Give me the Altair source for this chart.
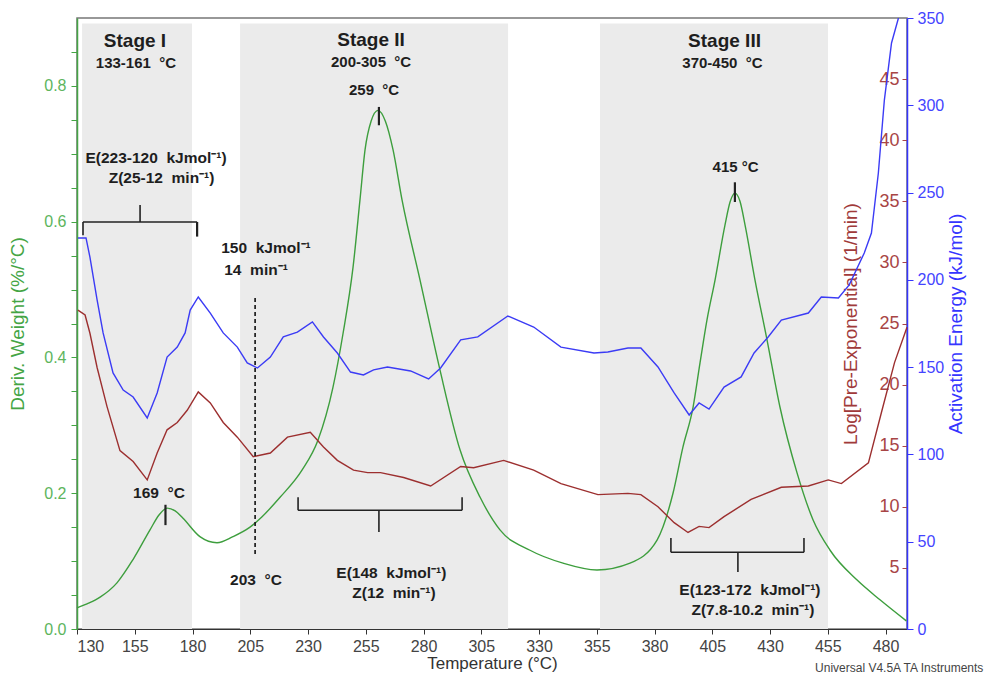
import altair as alt
import pandas as pd

# ---------------- data ----------------
# DTG curve (Deriv. Weight, %/°C)
temp_dtg = [130, 135, 140, 147.3, 154.2, 161.6, 165.5, 169, 172.5, 175.9, 183.2, 190.6, 197.5,
            204.9, 210, 217.9, 227.4, 234.3, 240.8, 245.2, 249.5, 252.5, 254.7, 257.3, 260.3,
            263.5, 266.8, 270.7, 278.5, 287.1, 295.8, 304.5, 313.1, 326.1, 340.4, 355.1, 369.4,
            381.1, 388.0, 392.3, 396.7, 399.7, 402.7, 406.2, 410.5, 412.8, 414.8, 417.0, 419.2,
            423.5, 428.7, 434.3, 441.7, 448.6, 456.0, 467.7, 477.6, 489.0]
deriv_weight = [0.031, 0.038, 0.047, 0.068, 0.102, 0.146, 0.168, 0.178, 0.174, 0.163, 0.136, 0.127,
                0.136, 0.150, 0.165, 0.194, 0.234, 0.278, 0.356, 0.436, 0.533, 0.632, 0.706, 0.748,
                0.764, 0.748, 0.706, 0.632, 0.514, 0.382, 0.264, 0.194, 0.146, 0.116, 0.097, 0.087,
                0.097, 0.131, 0.200, 0.268, 0.327, 0.392, 0.455, 0.514, 0.595, 0.630, 0.642, 0.630,
                0.595, 0.514, 0.426, 0.327, 0.230, 0.161, 0.116, 0.072, 0.043, 0.012]

# Log[Pre-Exponential] (1/min)
temp_logz = [130.4, 133.5, 135.6, 138.7, 143.0, 148.6, 154.3, 160.4, 164.7, 169.0, 173.4, 177.7,
             182.5, 187.7, 193.3, 199.4, 206.3, 213.7, 221.1, 231.0, 236.7, 242.7, 249.7, 255.8,
             261.4, 271.4, 283.1, 296.1, 301.7, 314.7, 327.7, 339.5, 355.5, 368.5, 374.1, 381.5,
             388.5, 394.5, 399.3, 403.6, 410.1, 421.8, 434.9, 446.6, 455.2, 460.9, 472.6, 478.2,
             483.9, 489.3]
log_preexp = [26.1, 25.7, 24.2, 21.4, 18.2, 14.6, 13.7, 12.2, 14.4, 16.3, 16.9, 17.9, 19.4, 18.5,
              16.9, 15.7, 14.1, 14.4, 15.7, 16.1, 14.9, 13.8, 13.0, 12.8, 12.8, 12.4, 11.7, 13.3,
              13.2, 13.8, 13.0, 11.9, 11.0, 11.1, 11.0, 10.0, 8.7, 7.9, 8.4, 8.3, 9.2, 10.6, 11.6,
              11.7, 12.2, 11.9, 13.6, 17.7, 21.8, 24.7]

# Activation Energy (kJ/mol)
temp_ea = [130.4, 133.9, 135.6, 138.7, 141.3, 145.6, 150.0, 154.3, 160.4, 164.7, 169.0, 173.4,
           176.8, 179.0, 182.5, 187.7, 193.3, 199.4, 203.7, 208.1, 213.7, 219.3, 225.4, 231.9,
           236.7, 242.7, 248.4, 254.0, 258.4, 264.4, 274.4, 282.2, 287.4, 296.1, 303.5, 316.5,
           327.7, 339.5, 353.8, 359.8, 368.5, 374.1, 381.5, 388.5, 395.0, 399.3, 403.6, 410.1,
           417.5, 423.1, 429.2, 434.9, 446.6, 452.2, 459.6, 464.3, 470.8, 473.9, 476.9, 479.5,
           482.6, 485.6]
act_energy = [224, 224, 213, 188.5, 169.6, 146.7, 136.9, 132.9, 120.9, 135.2, 155.8, 161.5, 169.6,
              182.7, 190.2, 181.0, 169.6, 161.5, 152.4, 149.5, 155.8, 167.3, 170.1, 175.9, 167.3,
              158.1, 147.2, 145.5, 148.4, 150.1, 147.8, 143.2, 149.5, 165.6, 167.3, 179.3, 173.0,
              161.5, 158.1, 158.7, 161.0, 161.0, 150.1, 135.2, 122.6, 129.5, 126.0, 138.6, 144.4,
              158.1, 167.3, 177.0, 181.0, 190.2, 189.6, 197.1, 215.4, 226.8, 261.2, 303.0, 335.7,
              350]

# shaded stages
stage_from = [132.2, 200.6, 356.4]
stage_to = [179.8, 316.6, 455.1]
stage_top = [0.892, 0.892, 0.892]

# axis ticks
x_ticks = [130, 155, 180, 205, 230, 255, 280, 305, 330, 355, 380, 405, 430, 455, 480]
green_ticks = [round(0.05 * i, 2) for i in range(18)]
red_ticks = [5, 10, 15, 20, 25, 30, 35, 40, 45]
blue_ticks = [0, 50, 100, 150, 200, 250, 300, 350]

# annotation texts (position in temperature / deriv-weight units)
NB = "\u00a0"
ann_text = ["Stage I", "133-161 " + NB + "°C", "Stage II", "200-305 " + NB + "°C", "259 " + NB + "°C",
            "Stage III", "370-450 " + NB + "°C", "415 °C",
            "E(223-120 " + NB + "kJmol⁻¹)", "Z(25-12 " + NB + "min⁻¹)",
            "150 " + NB + "kJmol⁻¹", "14 " + NB + "min⁻¹", "203 " + NB + "°C", "169 " + NB + "°C",
            "E(148 " + NB + "kJmol⁻¹)", "Z(12 " + NB + "min⁻¹)",
            "E(123-172 " + NB + "kJmol⁻¹)", "Z(7.8-10.2 " + NB + "min⁻¹)"]
ann_T = [155.1, 155.5, 257.3, 257.3, 258.6, 410.3, 409.4, 415.1, 164.2, 166.6,
         211.8, 207.5, 207.5, 165.5, 266.1, 267.2, 421.3, 422.6]
ann_v = [0.866, 0.834, 0.868, 0.835, 0.794, 0.866, 0.834, 0.680, 0.694, 0.664,
         0.561, 0.529, 0.072, 0.200, 0.0825, 0.053, 0.057, 0.028]
ann_size = [19, 15, 19, 15, 15, 19, 15, 15, 15.5, 15.5, 15.5, 15.5, 15.5, 15.5, 15.5, 15.5, 15.5, 15.5]

# bracket / marker segments (temperature, deriv-weight units)
seg_T1 = [132.6, 132.6, 182.0, 157.3,  225.7, 225.7, 296.7, 260.7,  387.1, 387.1, 444.7, 416.1,
          168.3, 260.7, 414.8]
seg_T2 = [182.0, 132.6, 182.0, 157.3,  296.7, 225.7, 296.7, 260.7,  444.7, 387.1, 444.7, 416.1,
          168.3, 260.7, 414.8]
seg_v1 = [0.5995, 0.5995, 0.5995, 0.5995, 0.175, 0.175, 0.175, 0.175, 0.113, 0.113, 0.113, 0.113,
          0.183, 0.769, 0.658]
seg_v2 = [0.5995, 0.580, 0.578, 0.6245, 0.175, 0.194, 0.194, 0.143, 0.113, 0.134, 0.134, 0.084,
          0.153, 0.742, 0.629]
seg_w = [1.6, 1.6, 2.2, 1.6, 1.6, 1.6, 1.6, 1.6, 1.6, 1.6, 1.6, 1.6, 2.2, 2.2, 2.2]

dash_T = [207.1]
dash_v1 = [0.4875]
dash_v2 = [0.109]

footer_text = ["Universal V4.5A TA Instruments"]
footer_T = [449.5]
footer_v = [-0.057]

# ---------------- build tables ----------------
dtg_df = pd.DataFrame({"T": temp_dtg, "v": deriv_weight})
logz_df = pd.DataFrame({"T": temp_logz, "z": log_preexp})
ea_df = pd.DataFrame({"T": temp_ea, "e": act_energy})
stage_df = pd.DataFrame({"T": stage_from, "T2": stage_to, "v": stage_top, "v2": [0, 0, 0]})
ann_df = pd.DataFrame({"T": ann_T, "v": ann_v, "label": ann_text, "size": ann_size})
seg_df = pd.DataFrame({"T": seg_T1, "T2": seg_T2, "v": seg_v1, "v2": seg_v2, "w": seg_w})
dash_df = pd.DataFrame({"T": dash_T, "v": dash_v1, "v2": dash_v2})
foot_df = pd.DataFrame({"T": footer_T, "v": footer_v, "label": footer_text})

FONT = "Liberation Sans"
W, H = 830, 611

x_axis = alt.Axis(values=x_ticks, title="Temperature (°C)", grid=False, labelFontSize=16,
                  titleFontSize=17, titleFontWeight="normal", labelColor="#444", titleColor="#333",
                  domainColor="#333", tickColor="#333", tickSize=5, labelPadding=4,
                  titlePadding=1, labelFont=FONT, titleFont=FONT, domainWidth=1.2)
x_scale = alt.Scale(domain=[130, 489.3], nice=False, zero=False)


def X(field="T"):
    return alt.X(field, type="quantitative", scale=x_scale, axis=x_axis)


def YG(field="v"):
    return alt.Y(field, type="quantitative", scale=alt.Scale(domain=[0, 0.9], nice=False), axis=None)


shade = alt.Chart(stage_df).mark_rect(color="#ebebeb").encode(
    x=X(), x2="T2", y=YG(), y2="v2")

green_axis = alt.Axis(orient="left", values=green_ticks,
                      labelExpr="abs(datum.value*5 - round(datum.value*5)) < 0.001 ? format(datum.value, '.1f') : ''",
                      grid=False, domainColor="#44a544", domainWidth=1.5, tickColor="#44a544",
                      tickSize=6, labelPadding=5, labelColor="#5db55d", labelFontSize=16,
                      labelFont=FONT, title="Deriv. Weight (%/°C)", titleColor="#44a544",
                      titleFontSize=19, titleFontWeight="normal", titleFont=FONT, titlePadding=16)
green = alt.Chart(dtg_df).mark_line(color="#3d9e3d", strokeWidth=1.4, interpolate="monotone").encode(
    x=X(), y=alt.Y("v", type="quantitative", scale=alt.Scale(domain=[0, 0.9], nice=False), axis=green_axis))

red_axis = alt.Axis(orient="left", offset=-W, values=red_ticks, grid=False, domain=False,
                    tickColor="#a84545", tickSize=5, labelPadding=3, labelColor="#a84545",
                    labelFontSize=18, labelFont=FONT, title="Log[Pre-Exponential] (1/min)",
                    titleColor="#a03a3a", titleFontSize=19, titleFontWeight="normal",
                    titleFont=FONT, titlePadding=18)
red = alt.Chart(logz_df).mark_line(color="#9c2f2f", strokeWidth=1.4).encode(
    x=X(), y=alt.Y("z", type="quantitative", scale=alt.Scale(domain=[0, 50], nice=False), axis=red_axis))

blue_axis = alt.Axis(orient="right", values=blue_ticks, grid=False, domainColor="#3535ff",
                     domainWidth=1.5, tickColor="#3535ff", tickSize=6, labelPadding=4,
                     labelColor="#4444ff", labelFontSize=16, labelFont=FONT,
                     title="Activation Energy (kJ/mol)", titleColor="#3535ff", titleFontSize=19,
                     titleFontWeight="normal", titleFont=FONT, titlePadding=22, titleAngle=270)
blue = alt.Chart(ea_df).mark_line(color="#3b3bf5", strokeWidth=1.4, clip=True).encode(
    x=X(), y=alt.Y("e", type="quantitative", scale=alt.Scale(domain=[0, 350], nice=False), axis=blue_axis))

segs = alt.Chart(seg_df).mark_rule(color="#222").encode(
    x=X(), x2="T2", y=YG(), y2="v2", strokeWidth=alt.StrokeWidth("w", type="quantitative", scale=None))

dash = alt.Chart(dash_df).mark_rule(color="#111", strokeWidth=1.6, strokeDash=[4, 3]).encode(
    x=X(), y=YG(), y2="v2")

texts = alt.Chart(ann_df).mark_text(font=FONT, fontWeight="bold", color="#1e1e1e",
                                    baseline="middle", align="center").encode(
    x=X(), y=YG(), text="label", size=alt.Size("size", type="quantitative", scale=None))

footer = alt.Chart(foot_df).mark_text(font=FONT, fontSize=12, color="#444", align="left",
                                      baseline="middle").encode(
    x=X(), y=YG(), text="label")

chart = alt.layer(shade, green, red, blue, segs, dash, texts, footer).resolve_scale(
    y="independent"
).properties(
    width=W, height=H,
    padding={"left": 69, "top": 10, "right": 77, "bottom": 47},
    autosize=alt.AutoSizeParams(type="none"),
).configure_view(stroke="#777", strokeWidth=1.5)

chart.save("out.html", embed_options={"renderer": "svg", "actions": False})
